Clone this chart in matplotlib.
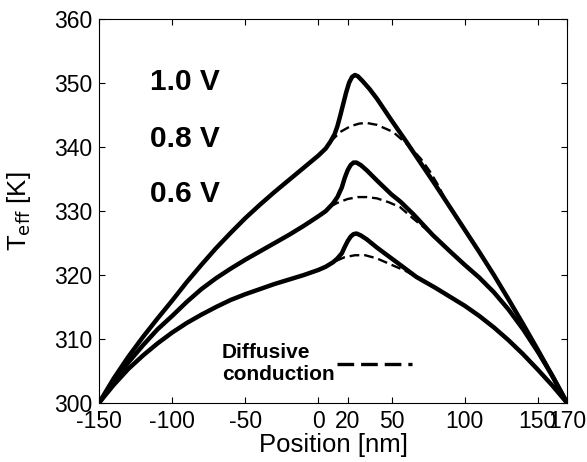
import matplotlib
matplotlib.use('Agg')
from matplotlib import rcParams
import matplotlib.pyplot as plt
from matplotlib.lines import Line2D

rcParams['font.family'] = ['Liberation Sans', 'DejaVu Sans']
rcParams['axes.unicode_minus'] = False
rcParams['lines.scale_dashes'] = False
rcParams['axes.linewidth'] = 0.8
rcParams['xtick.direction'] = 'in'
rcParams['ytick.direction'] = 'in'
rcParams['xtick.top'] = True
rcParams['ytick.right'] = True

# full (solid) curves
x_10 = [-150, -140, -130, -120, -110, -100, -90, -80, -70, -60, -50, -40, -30, -20, -10,
        0, 5, 8, 11, 13, 15, 17, 19, 21, 23, 25, 27, 30, 35, 40, 50, 60, 70, 80, 90,
        100, 110, 120, 130, 140, 150, 160, 170]
t_10 = [300, 303.8, 307.2, 310.3, 313.2, 316, 318.9, 321.6, 324.2, 326.6, 328.9, 331, 333,
        334.9, 336.8, 338.7, 339.8, 340.8, 342, 343.3, 345, 346.8, 348.6, 350.1, 351, 351.3,
        351.1, 350.4, 349.1, 347.6, 344.2, 340.9, 337.5, 334.1, 330.6, 327.1, 323.6, 320,
        316.2, 312.3, 308.3, 304.2, 300]

x_08 = [-150, -140, -130, -120, -110, -100, -90, -80, -70, -60, -50, -40, -30, -20, -10,
        0, 5, 10, 13, 16, 18, 20, 22, 24, 26, 29, 33, 40, 50, 56, 65, 78, 90, 100, 110,
        120, 130, 140, 150, 160, 170]
t_08 = [300, 303.3, 306.3, 309, 311.5, 313.6, 315.8, 317.8, 319.5, 321, 322.4, 323.7, 325,
        326.3, 327.7, 329.2, 330, 331.2, 332.2, 333.7, 335.2, 336.4, 337.2, 337.6, 337.6, 337.2,
        336.4, 334.8, 332.6, 331.5, 329.5, 326.3, 323.7, 321.6, 319.6, 317.3, 314.6, 311.5,
        308, 304.2, 300]

x_06 = [-150, -140, -130, -120, -110, -100, -90, -80, -70, -60, -50, -40, -30, -20, -10,
        0, 5, 10, 13, 16, 18, 20, 22, 24, 26, 29, 33, 40, 50, 60, 67, 80, 90, 100, 110,
        120, 130, 140, 150, 160, 170]
t_06 = [300, 302.8, 305.3, 307.4, 309.3, 311, 312.5, 313.8, 315, 316.1, 317, 317.8, 318.6,
        319.3, 320, 320.8, 321.3, 322, 322.6, 323.4, 324.4, 325.3, 326, 326.4, 326.5, 326.2,
        325.6, 324.3, 322.6, 320.9, 319.7, 318, 316.6, 315.2, 313.6, 311.8, 309.8, 307.6,
        305.2, 302.7, 300]

# diffusive conduction (dashed) curves
xd_10 = [8, 15, 22, 28, 33, 40, 51, 62, 70, 76, 82, 87]
td_10 = [340.8, 342.4, 343.3, 343.7, 343.8, 343.5, 342.4, 340.2, 338.2, 336.3, 334, 331.7]

xd_08 = [8, 13, 20, 27, 33, 40, 48, 56, 65, 74, 80]
td_08 = [330.7, 331.3, 331.9, 332.2, 332.2, 332.0, 331.4, 330.6, 328.8, 327.1, 325.8]

xd_06 = [12, 18, 25, 32, 40, 50, 60, 67]
td_06 = [322.2, 322.8, 323.1, 323.1, 322.6, 321.6, 320.6, 319.7]

voltages = ['1.0 V', '0.8 V', '0.6 V']
x_ticks = [-150, -100, -50, 0, 20, 50, 100, 150, 170]
y_ticks = [300, 310, 320, 330, 340, 350, 360]

fig = plt.figure(figsize=(5.87, 4.62), dpi=100)
ax = fig.add_axes([0.1687, 0.128, 0.7973, 0.83])

for xs, ts in [(x_10, t_10), (x_08, t_08), (x_06, t_06)]:
    ax.plot(xs, ts, color='k', lw=3.2, solid_capstyle='round', solid_joinstyle='round')
for xs, ts in [(xd_10, td_10), (xd_08, td_08), (xd_06, td_06)]:
    ax.plot(xs, ts, color='k', lw=1.7, dashes=(7, 3.5))

ax.set_xlim(-150, 170)
ax.set_ylim(300, 360)
ax.set_xticks(x_ticks)
ax.set_yticks(y_ticks)
ax.tick_params(labelsize=16.5, length=4, width=0.8, pad=5)
ax.set_xlabel('Position [nm]', fontsize=18.5, labelpad=0)
ax.set_ylabel(r'T$_{\mathrm{eff}}$ [K]', fontsize=18.5, labelpad=15)

for lab, yy in zip(voltages, [0.816, 0.667, 0.524]):
    ax.text(0.109, yy, lab, transform=ax.transAxes, fontsize=21.5,
            fontweight='bold', va='baseline')

proxy = Line2D([], [], color='k', lw=2.4, dashes=(12, 5))
ax.legend([proxy], ['Diffusive\nconduction'], loc='upper left',
          bbox_to_anchor=(0.263, 0.156), frameon=False, markerfirst=False,
          prop={'size': 15, 'weight': 'bold'}, handlelength=3.6,
          handletextpad=0.1, borderpad=0, borderaxespad=0, labelspacing=0)

plt.savefig('out.png', dpi=100)
